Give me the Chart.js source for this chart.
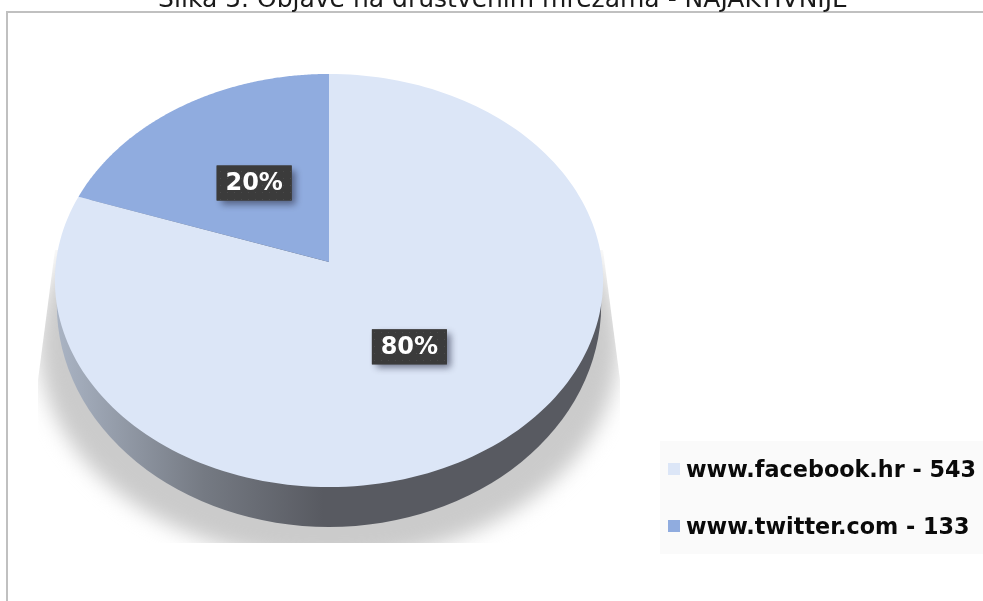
<!DOCTYPE html>
<html>
<head>
<meta charset="utf-8">
<style>
  html, body { margin: 0; padding: 0; background: #fff; overflow: hidden; }
  canvas { display: block; }
</style>
<script src="https://cdn.jsdelivr.net/npm/chart.js@4"></script>
</head>
<body>
<canvas id="pie" width="983" height="601"></canvas>
<script>
const titleText = "Slika 5. Objave na društvenim mrežama - NAJAKTIVNIJE";
const sites = ["www.facebook.hr", "www.twitter.com"];
const posts = [543, 133];
const percentLabels = ["80%", "20%"];
const sliceColors = ["#dce6f7", "#90acdf"];

const TILT = 0.7505;      // vertical squash of the pie face
const PERSP = 0.0896;     // front of the pie is a bit bigger than the back
const FONT = '"DejaVu Sans", Verdana, sans-serif';

// circle point (angle in radians, r 0..1) -> point on the tilted face
function project(arc, angle, r) {
    const u = Math.cos(angle) * r;
    const v = Math.sin(angle) * r;
    const w = 1 - PERSP * v;
    return {
        x: arc.x + (arc.outerRadius * u) / w,
        y: arc.y + (arc.outerRadius * TILT * v) / w,
    };
}

function drawShadow(ctx, arc) {
    ctx.save();
    // wedge-shaped clip: the shadow widens towards the bottom and is cut off flat
    ctx.beginPath();
    ctx.moveTo(arc.x - 274, arc.y - 12);
    ctx.lineTo(arc.x - 291, arc.y + 118);
    ctx.lineTo(arc.x - 291, arc.y + 281);
    ctx.lineTo(arc.x + 291, arc.y + 281);
    ctx.lineTo(arc.x + 291, arc.y + 118);
    ctx.lineTo(arc.x + 274, arc.y - 12);
    ctx.closePath();
    ctx.clip();
    ctx.filter = "blur(10px)";
    ctx.fillStyle = "#cbcbcb";
    ctx.beginPath();
    ctx.ellipse(arc.x, arc.y + 83, arc.outerRadius + 17, arc.outerRadius * 0.788, 0, 0, Math.PI * 2);
    ctx.fill();
    ctx.restore();
}

function drawRim(ctx, arc) {
    const R = arc.outerRadius;
    const grad = ctx.createLinearGradient(arc.x - R, 0, arc.x + R, 0);
    grad.addColorStop(0, "#aab4c4");
    grad.addColorStop(0.27, "#757a83");
    grad.addColorStop(0.49, "#585a61");
    grad.addColorStop(1, "#585a61");
    ctx.fillStyle = grad;
    ctx.beginPath();
    ctx.ellipse(arc.x, arc.y + 43, R * 0.997, R * 0.813, 0, 0, Math.PI * 2);
    ctx.fill();
}

function drawSlice(ctx, arc, color) {
    const steps = 180;
    ctx.beginPath();
    ctx.moveTo(arc.x, arc.y);
    for (let i = 0; i <= steps; i++) {
        const a = arc.startAngle + ((arc.endAngle - arc.startAngle) * i) / steps;
        const p = project(arc, a, 1);
        ctx.lineTo(p.x, p.y);
    }
    ctx.closePath();
    ctx.fillStyle = color;
    ctx.fill();
}

function dotPattern(ctx) {
    const tile = document.createElement("canvas");
    tile.width = tile.height = 7;
    const t = tile.getContext("2d");
    t.fillStyle = "#3b3b3b";
    t.fillRect(0, 0, 7, 7);
    t.fillStyle = "#4a4a4a";
    t.fillRect(3, 3, 1, 1);
    return ctx.createPattern(tile, "repeat");
}

function drawPercent(ctx, arc, text) {
    const mid = (arc.startAngle + arc.endAngle) / 2;
    const p = project(arc, mid, 0.49);
    const w = 75, h = 35;
    ctx.save();
    ctx.shadowColor = "rgba(50,55,80,0.65)";
    ctx.shadowBlur = 7;
    ctx.shadowOffsetX = 4;
    ctx.shadowOffsetY = 4;
    ctx.fillStyle = "#3b3b3b";
    ctx.fillRect(p.x - w / 2, p.y - h / 2, w, h);
    ctx.restore();
    ctx.fillStyle = dotPattern(ctx);
    ctx.fillRect(p.x - w / 2, p.y - h / 2, w, h);
    ctx.fillStyle = "#ffffff";
    ctx.font = "bold 24px " + FONT;
    ctx.textAlign = "center";
    ctx.textBaseline = "middle";
    ctx.fillText(text, p.x, p.y + 1);
}

function drawLegend(ctx) {
    ctx.fillStyle = "#fafafa";
    ctx.fillRect(660, 441, 323, 113);
    ctx.font = "bold 22.3px " + FONT;
    ctx.textAlign = "left";
    ctx.textBaseline = "alphabetic";
    sites.forEach((site, i) => {
        const y = 463 + i * 57;
        ctx.fillStyle = sliceColors[i];
        ctx.fillRect(668, y, 12, 12);
        ctx.fillStyle = "#0a0a0a";
        ctx.fillText(site + " - " + posts[i], 686, y + 14);
    });
}

function drawFrame(ctx) {
    ctx.strokeStyle = "#c0c0c0";
    ctx.lineWidth = 2;
    ctx.beginPath();
    ctx.moveTo(7, 601);
    ctx.lineTo(7, 12);
    ctx.lineTo(983, 12);
    ctx.stroke();
}

const tiltedPie = {
    id: "tiltedPie",
    beforeDatasetsDraw(chart) {
        const ctx = chart.ctx;
        const arcs = chart.getDatasetMeta(0).data;

        drawFrame(ctx);
        ctx.fillStyle = "#1a1a1a";
        ctx.font = "25px " + FONT;
        ctx.textAlign = "center";
        ctx.textBaseline = "alphabetic";
        ctx.fillText(titleText, 503, 7);

        drawShadow(ctx, arcs[0]);
        drawRim(ctx, arcs[0]);
        arcs.forEach((arc, i) => drawSlice(ctx, arc, sliceColors[i]));
        arcs.forEach((arc, i) => drawPercent(ctx, arc, percentLabels[i]));
        drawLegend(ctx);
        return false; // arcs are painted above, skip the flat ones
    },
};

new Chart(document.getElementById("pie"), {
    type: "pie",
    data: {
        labels: sites,
        datasets: [{ data: posts, backgroundColor: sliceColors, borderWidth: 0 }],
    },
    options: {
        responsive: false,
        animation: false,
        radius: 273,
        layout: { padding: { left: 0, right: 325, top: 0, bottom: 77 } },
        plugins: { legend: { display: false }, tooltip: { enabled: false } },
    },
    plugins: [tiltedPie],
});
</script>
</body>
</html>
